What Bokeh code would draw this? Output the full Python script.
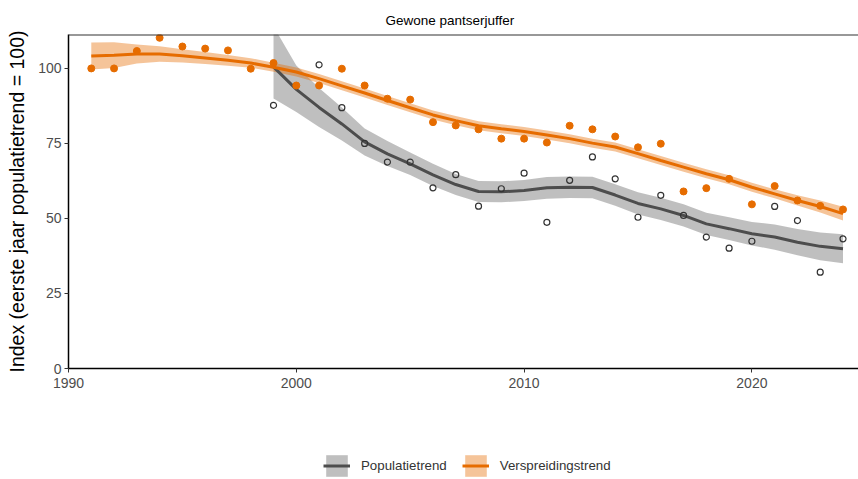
from bokeh.plotting import figure
from bokeh.layouts import column
from bokeh.models import Range1d, FixedTicker, Legend, LegendItem, Span, Title
from bokeh.embed import file_html
from bokeh.resources import INLINE

FONT = "Liberation Sans"

# ---- data ----
years_v = list(range(1991, 2025))
verspreiding_pts = [100, 100, 105.8, 110.2, 107.3, 106.6, 106, 99.9, 101.8, 94.3,
                    94.3, 99.9, 94.3, 89.9, 89.6, 82.1, 81, 79.7, 76.6, 76.6,
                    75.3, 80.9, 79.7, 77.3, 73.7, 74.9, 59, 60.1, 63.2, 54.7,
                    60.8, 56, 54.2, 53]
verspreiding_trend = [104.1, 104.4, 104.8, 104.8, 104.2, 103.5, 102.7, 101.8, 100.4, 98.8,
                      96.6, 94.2, 91.8, 89.3, 86.9, 84.5, 82.6, 80.9, 79.9, 79.0,
                      77.8, 76.6, 75.1, 73.8, 71.6, 69.3, 67.1, 64.9, 62.9, 60.4,
                      58.2, 56.0, 54.0, 51.6]
verspreiding_lo = [99.6, 100.1, 101.6, 102.2, 102.0, 101.5, 100.9, 100.2, 98.9, 97.3,
                   95.1, 92.7, 90.3, 87.8, 85.4, 83.0, 81.1, 79.4, 78.4, 77.5,
                   76.3, 75.1, 73.6, 72.3, 70.1, 67.8, 65.6, 63.4, 61.4, 58.9,
                   56.7, 54.3, 52.0, 49.3]
verspreiding_hi = [108.6, 108.7, 108.0, 107.4, 106.4, 105.5, 104.5, 103.4, 101.9, 100.3,
                   98.1, 95.7, 93.3, 90.8, 88.4, 86.0, 84.1, 82.4, 81.4, 80.5,
                   79.3, 78.1, 76.6, 75.3, 73.1, 70.8, 68.6, 66.4, 64.4, 61.9,
                   59.7, 57.7, 56.0, 53.9]

years_p_pts = [1999, 2001, 2002, 2003, 2004, 2005, 2006, 2007, 2008, 2009, 2010,
               2011, 2012, 2013, 2014, 2015, 2016, 2017, 2018, 2019, 2020, 2021,
               2022, 2023, 2024]
populatie_pts = [87.7, 101.2, 86.9, 75.0, 68.8, 68.8, 60.2, 64.6, 54.1, 59.9, 65.1,
                 48.7, 62.7, 70.5, 63.2, 50.4, 57.7, 51.0, 43.8, 40.1, 42.4, 54.0,
                 49.3, 32.1, 43.2]
years_p = list(range(1999, 2025))
populatie_trend = [100.5, 93.0, 87.0, 81.5, 75.5, 71.5, 68.2, 64.5, 61.3, 59.0,
                   58.9, 59.3, 60.2, 60.4, 60.3, 57.8, 55.0, 53.2, 51.0, 48.2,
                   46.6, 44.9, 43.8, 42.1, 40.7, 39.9]
populatie_lo = [90.0, 85.5, 80.5, 76.0, 71.0, 67.5, 64.5, 60.8, 57.8, 55.5,
                55.4, 55.8, 56.6, 56.8, 56.7, 54.2, 51.3, 49.5, 47.3, 44.5,
                42.8, 41.0, 39.6, 37.7, 36.1, 35.1]
populatie_hi = [114.0, 101.0, 93.5, 87.0, 80.0, 75.8, 72.0, 68.2, 64.8, 62.5,
                62.4, 62.8, 63.8, 64.0, 63.9, 61.4, 58.7, 56.9, 54.7, 51.9,
                50.4, 48.8, 48.0, 46.5, 45.3, 44.7]

x_ticks = [1990, 2000, 2010, 2020]
y_ticks = [0, 25, 50, 75, 100]
title_text = "Gewone pantserjuffer"
y_label = "Index (eerste jaar populatietrend = 100)"
series_names = ["Populatietrend", "Verspreidingstrend"]

ORANGE = "#E66C00"
GREY = "#4D4D4D"


def draw_series(fig):
    b1 = fig.varea(x=years_p, y1=populatie_lo, y2=populatie_hi,
                   fill_color="#808080", fill_alpha=0.5)
    b2 = fig.varea(x=years_v, y1=verspreiding_lo, y2=verspreiding_hi,
                   fill_color=ORANGE, fill_alpha=0.4)
    l1 = fig.line(years_p, populatie_trend, line_color=GREY, line_width=3)
    l2 = fig.line(years_v, verspreiding_trend, line_color=ORANGE, line_width=3)
    s1 = fig.scatter(years_p_pts, populatie_pts, marker="circle", size=6,
                     fill_color=None, line_color="#333333", line_width=1.2)
    s2 = fig.scatter(years_v, verspreiding_pts, marker="circle", size=7,
                     fill_color=ORANGE, line_color=ORANGE)
    return (b1, l1, s1), (b2, l2, s2)


p = figure(width=858, height=430, output_backend="svg",
           toolbar_location=None,
           x_range=Range1d(1990, 2024.68), y_range=Range1d(0, 111.3),
           min_border_left=68, min_border_right=0, min_border_top=34,
           min_border_bottom=62)
p.background_fill_color = "white"
p.border_fill_color = "white"
p.outline_line_color = None
p.grid.visible = False

draw_series(p)

# top strip border line
p.add_layout(Span(location=111.3, dimension="width", line_color="#333333",
                  line_width=2))

# axes
for ax in (p.xaxis[0], p.yaxis[0]):
    ax.axis_line_color = "black"
    ax.axis_line_width = 1.5
    ax.major_tick_line_color = "#333333"
    ax.major_tick_out = 4
    ax.major_tick_in = 0
    ax.minor_tick_line_color = None
    ax.major_label_text_font = FONT
    ax.major_label_text_font_size = "14px"
    ax.major_label_text_color = "#4D4D4D"
p.xaxis.ticker = FixedTicker(ticks=x_ticks)
p.yaxis.ticker = FixedTicker(ticks=y_ticks)
p.xaxis.major_label_standoff = 5
p.yaxis.major_label_standoff = 3
p.yaxis.axis_label = y_label
p.yaxis.axis_label_text_font = FONT
p.yaxis.axis_label_text_font_size = "19.5px"
p.yaxis.axis_label_text_font_style = "normal"
p.yaxis.axis_label_text_color = "black"
p.yaxis.axis_label_standoff = 7

# title
p.add_layout(Title(text=title_text, align="left", offset=317, standoff=13,
                   text_font=FONT, text_font_size="13.5px",
                   text_font_style="normal", text_color="black"), "above")

# legend figure: same glyph styles, data kept outside its visible ranges
lg = figure(width=858, height=49, output_backend="svg", toolbar_location=None,
            x_axis_type=None, y_axis_type=None,
            x_range=Range1d(0, 1), y_range=Range1d(0, 1),
            min_border=0, min_border_left=0, min_border_right=0,
            min_border_top=0, min_border_bottom=0)
lg.outline_line_color = None
lg.grid.visible = False
g_r, o_r = draw_series(lg)

legend = Legend(items=[LegendItem(label=series_names[0], renderers=[g_r[0], g_r[1]]),
                       LegendItem(label=series_names[1], renderers=[o_r[0], o_r[1]])],
                location=(255, 0), orientation="horizontal",
                glyph_width=27, glyph_height=27, label_standoff=11, spacing=15,
                padding=0, margin=0, border_line_color=None,
                background_fill_alpha=0,
                label_text_font=FONT, label_text_font_size="13.3px",
                label_text_color="#333333")
lg.add_layout(legend, "center")

layout = column(p, lg, spacing=0)
open("out.html", "w").write(file_html(layout, INLINE))
